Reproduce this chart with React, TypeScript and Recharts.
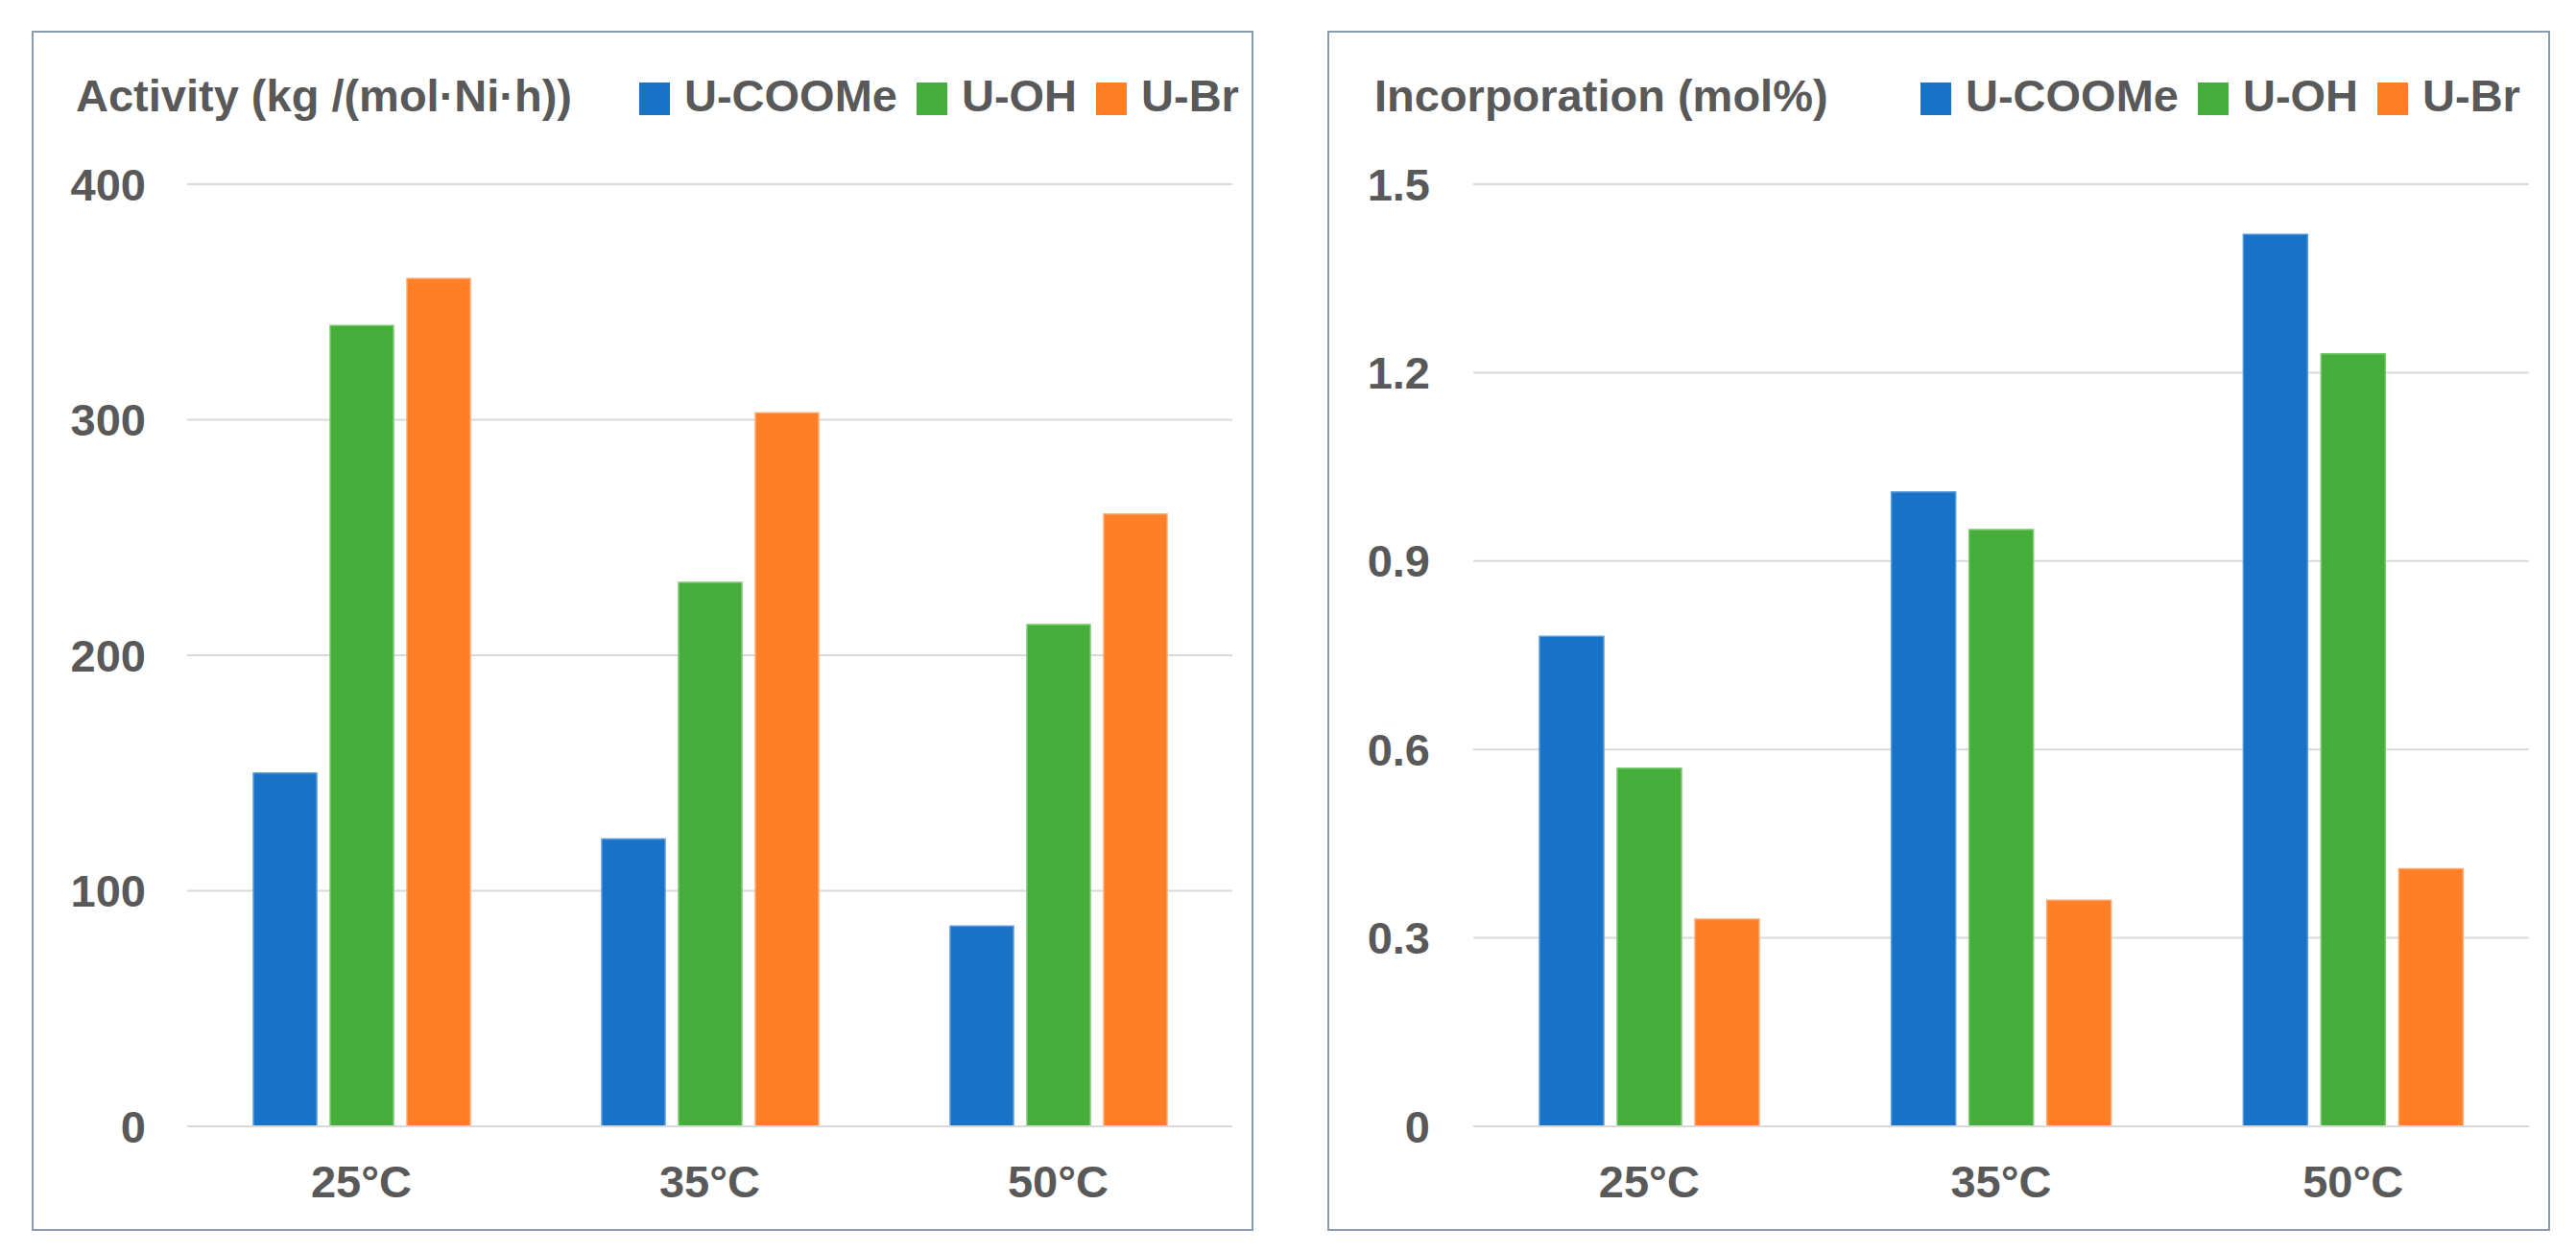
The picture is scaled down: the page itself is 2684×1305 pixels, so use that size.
import { BarChart, Bar, XAxis, YAxis, CartesianGrid } from "recharts";

const categories = ["25°C", "35°C", "50°C"];
const seriesNames = ["U-COOMe", "U-OH", "U-Br"];
const seriesColors = ["#1772c8", "#45ae3b", "#ff7f27"];
const seriesEdges = ["#5b9bd9", "#7ccb73", "#ffab70"];

const activityCOOMe = [150, 122, 85];
const activityOH = [340, 231, 213];
const activityBr = [360, 303, 260];
const activityTicks = [0, 100, 200, 300, 400];

const incorpCOOMe = [0.78, 1.01, 1.42];
const incorpOH = [0.57, 0.95, 1.23];
const incorpBr = [0.33, 0.36, 0.41];
const incorpTicks = [0, 0.3, 0.6, 0.9, 1.2, 1.5];

const TEXT = "#595959";
const GRID = "#d9d9d9";
const FONT = "'Liberation Sans', Arial, sans-serif";

function buildRows(a: number[], b: number[], c: number[]) {
  return categories.map((cat, i) => ({ cat, s0: a[i], s1: b[i], s2: c[i] }));
}

type PanelProps = {
  left: number;
  width: number;
  title: string;
  titleX: number;
  legendX: number;
  rows: { cat: string; s0: number; s1: number; s2: number }[];
  ticks: number[];
  fmt: (v: number) => string;
  marginLeft: number;
  tickGap: number;
  barSize: number;
};

function Panel(p: PanelProps) {
  const domainMax = p.ticks[p.ticks.length - 1];
  return (
    <>
      <div
        style={{
          position: "absolute",
          left: p.left,
          top: 32,
          width: p.width,
          height: 1251,
          border: "2px solid #8a9bb0",
          boxSizing: "border-box",
        }}
      />
      <div
        style={{
          position: "absolute",
          left: p.titleX,
          top: 76,
          fontSize: 47,
          lineHeight: "47px",
          fontWeight: "bold",
          color: TEXT,
          whiteSpace: "nowrap",
        }}
      >
        {p.title}
      </div>
      <div
        style={{
          position: "absolute",
          left: p.legendX,
          top: 76,
          display: "flex",
          alignItems: "center",
          fontSize: 47,
          lineHeight: "47px",
          fontWeight: "bold",
          color: TEXT,
          whiteSpace: "nowrap",
        }}
      >
        {seriesNames.map((name, i) => (
          <div key={name} style={{ display: "flex", alignItems: "center", marginRight: 20 }}>
            <span
              style={{
                display: "inline-block",
                width: 32,
                height: 34,
                background: seriesColors[i],
                marginRight: 15,
                marginTop: 6,
              }}
            />
            <span>{name}</span>
          </div>
        ))}
      </div>
      <div style={{ position: "absolute", left: p.left, top: 0 }}>
        <BarChart
          width={p.width}
          height={1305}
          data={p.rows}
          margin={{ top: 192, right: 22, left: p.marginLeft, bottom: 51 }}
          barGap={14}
          barSize={p.barSize}
        >
          <CartesianGrid vertical={false} stroke={GRID} strokeWidth={2} />
          <XAxis
            dataKey="cat"
            height={80}
            axisLine={{ stroke: GRID, strokeWidth: 2 }}
            tickLine={false}
            tickSize={0}
            tickMargin={41}
            tick={{ fill: TEXT, fontSize: 47, fontWeight: "bold" }}
          />
          <YAxis
            width={120}
            domain={[0, domainMax]}
            ticks={p.ticks}
            axisLine={false}
            tickLine={false}
            tickSize={0}
            tickMargin={p.tickGap}
            tickFormatter={(v) => p.fmt(Number(v))}
            tick={{ fill: TEXT, fontSize: 47, fontWeight: "bold" }}
          />
          {["s0", "s1", "s2"].map((k, i) => (
            <Bar
              key={k}
              dataKey={k}
              fill={seriesColors[i]}
              stroke={seriesEdges[i]}
              strokeWidth={1.5}
              isAnimationActive={false}
            />
          ))}
        </BarChart>
      </div>
    </>
  );
}

export default function App() {
  return (
    <div
      style={{
        position: "absolute",
        left: 0,
        top: 0,
        width: 2684,
        height: 1305,
        background: "#ffffff",
        fontFamily: FONT,
        overflow: "hidden",
      }}
    >
      <Panel
        left={33}
        width={1273}
        title="Activity (kg /(mol·Ni·h))"
        titleX={79}
        legendX={666}
        rows={buildRows(activityCOOMe, activityOH, activityBr)}
        ticks={activityTicks}
        fmt={(v) => String(v)}
        marginLeft={42}
        tickGap={43}
        barSize={66}
      />
      <Panel
        left={1383}
        width={1274}
        title="Incorporation (mol%)"
        titleX={1432}
        legendX={2001}
        rows={buildRows(incorpCOOMe, incorpOH, incorpBr)}
        ticks={incorpTicks}
        fmt={(v) => (v === 0 ? "0" : v.toFixed(1))}
        marginLeft={32}
        tickGap={45}
        barSize={67}
      />
    </div>
  );
}
